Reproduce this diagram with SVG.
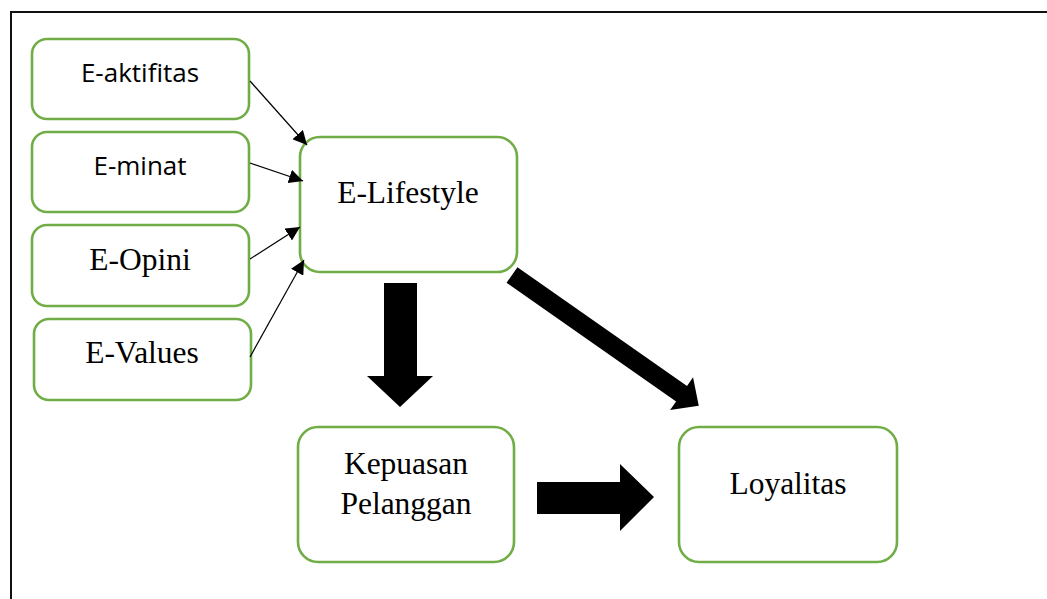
<svg xmlns="http://www.w3.org/2000/svg" width="1047" height="599" viewBox="0 0 1047 599">
<style>
.box{fill:#fff;stroke:#70AD47;stroke-width:2.6}
.sans{font-family:"Open Sans","Liberation Sans",sans-serif;font-size:26px;fill:#000;text-anchor:middle}
.serif{font-family:"Liberation Serif","Times New Roman",serif;font-size:31.5px;fill:#000;text-anchor:middle}
.thin{stroke:#000;stroke-width:1.2;fill:none;marker-end:url(#ah)}
.block{fill:#000}
</style>
<defs>
<marker id="ah" viewBox="0 0 10 10" refX="10" refY="5" markerWidth="14" markerHeight="14" markerUnits="userSpaceOnUse" orient="auto">
<path d="M0,0 L10,5 L0,10 z" fill="#000"/>
</marker>
</defs>
<rect x="0" y="0" width="1047" height="599" fill="#fff"/>
<path d="M11,599 V12 H1047" fill="none" stroke="#111" stroke-width="2"/>
<g id="node-aktifitas"><rect class="box" x="32" y="39" width="217" height="80" rx="15"/><text class="sans" x="140" y="82">E-aktifitas</text></g>
<g id="node-minat"><rect class="box" x="32" y="132" width="217" height="80" rx="15"/><text class="sans" x="140" y="175">E-minat</text></g>
<g id="node-opini"><rect class="box" x="32" y="225" width="217" height="81" rx="15"/><text class="serif" x="140" y="270">E-Opini</text></g>
<g id="node-values"><rect class="box" x="34" y="319" width="217" height="81" rx="15"/><text class="serif" x="142" y="363">E-Values</text></g>
<g id="node-lifestyle"><rect class="box" x="300" y="137" width="217" height="135" rx="20"/><text class="serif" x="408" y="203">E-Lifestyle</text></g>
<g id="node-kepuasan"><rect class="box" x="298" y="427" width="216" height="135" rx="20"/><text class="serif" x="406" y="474">Kepuasan</text><text class="serif" x="406" y="514">Pelanggan</text></g>
<g id="node-loyalitas"><rect class="box" x="679" y="427" width="218" height="135" rx="20"/><text class="serif" x="788" y="494">Loyalitas</text></g>
<g id="connectors">
<line class="thin" x1="250" y1="81" x2="307" y2="145"/>
<line class="thin" x1="250" y1="163" x2="303" y2="181"/>
<line class="thin" x1="250" y1="259" x2="300" y2="227"/>
<line class="thin" x1="250" y1="357" x2="304" y2="260"/>
<polygon class="block" points="384,283 417,283 417,376 433,376 400,407 367,376 384,376"/>
<polygon class="block" transform="translate(512,275) rotate(35)" points="0,-9.5 207,-9.5 207,-20 228,0 207,20 207,9.5 0,9.5"/>
<polygon class="block" points="537,482 620,482 620,464 654,497 620,531 620,514 537,514"/>
</g>
</svg>
